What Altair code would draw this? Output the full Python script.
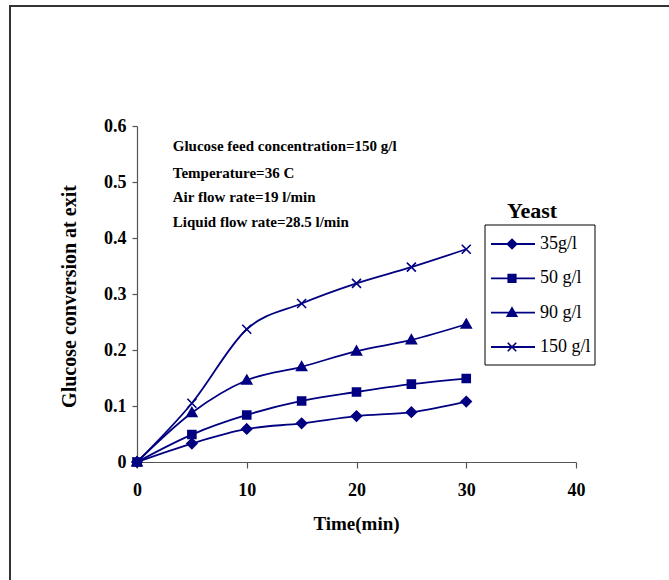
import altair as alt
import pandas as pd

# ---- data ----
time_min = [0, 5, 10, 15, 20, 25, 30]
yeast_35 = [0, 0.033, 0.059, 0.069, 0.082, 0.089, 0.108]
yeast_50 = [0, 0.049, 0.084, 0.109, 0.125, 0.139, 0.149]
yeast_90 = [0, 0.088, 0.146, 0.170, 0.198, 0.218, 0.246]
yeast_150 = [0, 0.105, 0.237, 0.283, 0.319, 0.348, 0.380]
series_labels = ["35g/l", "50 g/l", "90 g/l", "150 g/l"]
x_ticks = [0, 10, 20, 30, 40]
y_ticks = [0, 0.1, 0.2, 0.3, 0.4, 0.5, 0.6]
note_lines = [
    "Glucose feed concentration=150 g/l",
    "Temperature=36 C",
    "Air flow rate=19 l/min",
    "Liquid flow rate=28.5 l/min",
]
note_x = [3.26, 3.26, 3.26, 3.26]
note_y = [0.564, 0.516, 0.474, 0.4285]

NAVY = "#000080"
FONT = "Liberation Serif"

series_values = [yeast_35, yeast_50, yeast_90, yeast_150]
rows = []
for lab, vals in zip(series_labels, series_values):
    for t, v in zip(time_min, vals):
        rows.append({"time": t, "conv": v, "series": lab})
df = pd.DataFrame(rows)
notes_df = pd.DataFrame({"text": note_lines, "x": note_x, "y": note_y})
legend_df = pd.DataFrame({"series": series_labels})
one = pd.DataFrame({"k": [0]})

shape_paths = [
    "M0,-1L1,0L0,1L-1,0Z",
    "M-0.8,-0.8H0.8V0.8H-0.8Z",
    "M0,-1L1,0.75H-1Z",
    "M-0.9,-0.9L0.9,0.9M0.9,-0.9L-0.9,0.9",
]
shape_scale = alt.Scale(domain=series_labels, range=shape_paths)

x_enc = alt.X(
    "time:Q",
    scale=alt.Scale(domain=[0, 40], nice=False),
    axis=alt.Axis(
        values=x_ticks, title="Time(min)", grid=False, tickSize=6,
        labelPadding=13, labelFlush=False, titleX=219, titleY=61,
        titleAlign="center", titleBaseline="middle", titleFontSize=19,
    ),
)
y_enc = alt.Y(
    "conv:Q",
    scale=alt.Scale(domain=[0, 0.6], nice=False),
    axis=alt.Axis(
        values=y_ticks, format=".1~f", title="Glucose conversion at exit",
        grid=False, tickSize=5, labelPadding=6, labelFlush=False,
        titleX=-68, titleY=170, titleAngle=270, titleAlign="center",
        titleBaseline="middle", titleFontSize=20,
    ),
)

lines = alt.Chart(df).mark_line(
    color=NAVY, strokeWidth=1.8, interpolate="monotone"
).encode(x=x_enc, y=y_enc, detail="series:N")

points = alt.Chart(df).mark_point(
    filled=True, color=NAVY, stroke=NAVY, strokeWidth=1.6, opacity=1, size=100
).encode(
    x="time:Q", y="conv:Q",
    shape=alt.Shape("series:N", scale=shape_scale, legend=None),
)

notes = alt.Chart(notes_df).mark_text(
    align="left", baseline="middle", font=FONT, fontWeight="bold",
    fontSize=15, color="black",
).encode(x="x:Q", y="y:Q", text="text:N")

frame_left = alt.Chart(one).mark_rule(color="#333333", strokeWidth=2).encode(
    x=alt.value(-127), y=alt.value(-120), y2=alt.value(460)
)
frame_top = alt.Chart(one).mark_rule(color="#333333", strokeWidth=2).encode(
    x=alt.value(-128), x2=alt.value(540), y=alt.value(-120)
)

main = alt.layer(frame_left, frame_top, lines, points, notes)

# ---- hand-built legend ----
leg_y = alt.Y(
    "series:N", sort=series_labels, axis=None,
    scale=alt.Scale(type="point", domain=series_labels, range=[118, 221], padding=0),
)
leg_box = alt.Chart(one).mark_rect(fill="white", stroke="black", strokeWidth=1).encode(
    x=alt.value(348), x2=alt.value(458), y=alt.value(99), y2=alt.value(239)
)
leg_title = alt.Chart(one).mark_text(
    text="Yeast", font=FONT, fontWeight="bold", fontSize=22,
    align="center", baseline="middle", color="black",
).encode(x=alt.value(395), y=alt.value(85))
leg_rules = alt.Chart(legend_df).mark_rule(color=NAVY, strokeWidth=1.8).encode(
    x=alt.value(354), x2=alt.value(398), y=leg_y
)
leg_points = alt.Chart(legend_df).mark_point(
    filled=True, color=NAVY, stroke=NAVY, strokeWidth=1.6, opacity=1, size=90
).encode(
    x=alt.value(375), y=leg_y,
    shape=alt.Shape("series:N", scale=shape_scale, legend=None),
)
leg_text = alt.Chart(legend_df).mark_text(
    align="left", baseline="middle", font=FONT, fontSize=18, color="black"
).encode(x=alt.value(403), y=leg_y, text="series:N")

legend = alt.layer(leg_box, leg_title, leg_rules, leg_points, leg_text)

chart = (
    alt.layer(main, legend)
    .resolve_scale(y="independent")
    .properties(
        width=439, height=336,
        autosize=alt.AutoSizeParams(type="none"),
        padding={"left": 137, "top": 126, "right": 93, "bottom": 118},
        background="white",
    )
    .configure_view(stroke=None)
    .configure_axis(
        labelFont=FONT, labelFontWeight="bold", labelFontSize=18,
        labelColor="black", titleFont=FONT, titleFontWeight="bold",
        titleColor="black", domainColor="#555555", tickColor="#555555",
        domainWidth=1.2, tickWidth=1.2,
    )
)

chart.save("out.html", embed_options={"renderer": "svg", "actions": False})
